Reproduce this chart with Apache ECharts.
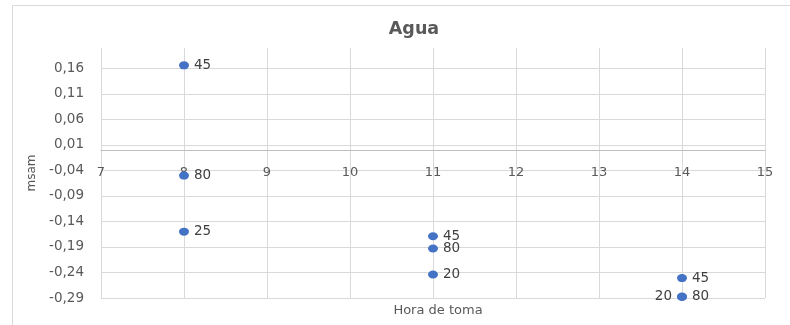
<!DOCTYPE html>
<html>
<head>
<meta charset="utf-8">
<script src="https://cdn.jsdelivr.net/npm/echarts@6/dist/echarts.min.js"></script>
<style>
  html, body { margin: 0; padding: 0; background: #fff; }
  #chart { width: 790px; height: 325px; }
</style>
</head>
<body>
<div id="chart"></div>
<script>
// Hour of sampling, measured value and point tag
const hours  = [8, 8, 8, 11, 11, 11, 14, 14, 14];
const values = [0.166, -0.050, -0.160, -0.169, -0.193, -0.244, -0.251, -0.287, -0.288];
const tags   = ['45', '80', '25', '45', '80', '20', '45', '80', '20'];
const tagSide = ['right', 'right', 'right', 'right', 'right', 'right', 'right', 'right', 'left'];

// Value axis ticks (start at -0,29, step 0,05)
const yTicks = [-0.29, -0.24, -0.19, -0.14, -0.09, -0.04, 0.01, 0.06, 0.11, 0.16];
const xMin = 7, xMax = 15;
const yMin = -0.29, yMax = 0.2;

const FONT = 'DejaVu Sans';
const GREY = '#595959';

const points = hours.map((h, i) => ({
  value: [h, values[i]],
  label: { position: tagSide[i], formatter: tags[i] }
}));

const chart = echarts.init(document.getElementById('chart'), null, { renderer: 'canvas' });
chart.setOption({
  animation: false,
  backgroundColor: '#fff',
  textStyle: { fontFamily: FONT },
  graphic: [{
    type: 'rect',
    shape: { x: 12.5, y: 5.5, width: 800, height: 340 },
    style: { fill: 'none', stroke: '#d9d9d9', lineWidth: 1 },
    silent: true, z: -10
  }],
  title: [{
    text: 'Agua',
    left: 409, top: 15, textAlign: 'center',
    textStyle: { fontFamily: FONT, fontSize: 17.5, fontWeight: 'bold', color: GREY }
  }, {
    text: 'Hora de toma',
    left: 433, top: 299, textAlign: 'center',
    textStyle: { fontFamily: FONT, fontSize: 13, fontWeight: 'normal', color: GREY }
  }],
  grid: { left: 101, right: 25, top: 48, bottom: 27 },
  xAxis: {
    type: 'value', min: xMin, max: xMax, interval: 1,
    position: 'bottom', offset: 0,
    axisLine: { onZero: false, lineStyle: { color: '#bfbfbf', width: 1 } },
    axisTick: { show: false },
    axisLabel: { color: GREY, fontSize: 13, fontFamily: FONT, margin: 15, showMinLabel: true, showMaxLabel: true },
    splitLine: { show: true, lineStyle: { color: '#d9d9d9', width: 1 } }
  },
  yAxis: {
    type: 'value', min: yMin, max: yMax,
    axisLine: { show: false },
    axisTick: { show: false, customValues: yTicks },
    axisLabel: {
      customValues: yTicks, color: GREY, fontSize: 13.5, fontFamily: FONT, margin: 17,
      formatter: v => v.toFixed(2).replace('.', ',')
    },
    splitLine: { show: true, lineStyle: { color: '#d9d9d9', width: 1 } },
    name: 'msam', nameLocation: 'middle', nameGap: 58, nameRotate: 90,
    nameTextStyle: { color: GREY, fontSize: 12, fontFamily: FONT }
  },
  series: [{
    type: 'scatter',
    symbol: 'path://M10,5A5,5,0,1,1,0,5A5,5,0,1,1,10,5Z',
    symbolSize: [10, 8],
    itemStyle: { color: '#4472c4', opacity: 1 },
    label: { show: true, color: '#404040', fontSize: 13.5, fontFamily: FONT, distance: 5 },
    data: points
  }]
});

// Move the hour axis (line and labels) up to where the value axis crosses zero
const zeroY = chart.convertToPixel({ yAxisIndex: 0 }, 0);
const baseY = chart.convertToPixel({ yAxisIndex: 0 }, yMin);
chart.setOption({ xAxis: { offset: zeroY - baseY } });
</script>
</body>
</html>
